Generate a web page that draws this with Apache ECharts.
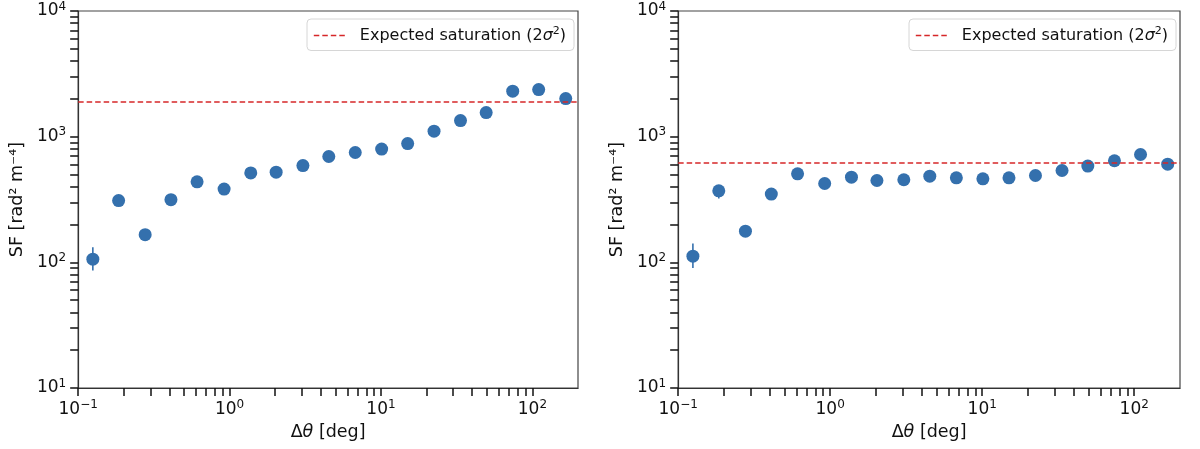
<!DOCTYPE html>
<html><head><meta charset="utf-8">
<script src="https://cdn.jsdelivr.net/npm/echarts@6/dist/echarts.min.js"></script>
<style>html,body{margin:0;padding:0;background:#fff}.c{width:600px;height:449px;float:left}</style>
</head><body><div class="c" id="cL"></div><div class="c" id="cR"></div>
<script>
// ---- data ----
const dtheta = [0.125, 0.185, 0.277, 0.41, 0.61, 0.92, 1.38, 2.03, 3.05, 4.52, 6.76, 10.1, 15.0, 22.4, 33.5, 49.5, 74.1, 110, 166];
const sfLeft = [106, 310, 166, 315, 437, 383, 515, 522, 589, 695, 748, 796, 881, 1106, 1343, 1555, 2300, 2368, 2009];
const sfRight = [112, 371, 177, 349, 506, 424, 476, 448, 454, 485, 470, 462, 470, 491, 538, 583, 643, 721, 604];
// visible error bars only (null = hidden behind the marker)
const errLeftLow  = [86, null, null, null, null, null, null, null, null, null, null, null, null, null, null, null, null, null, null];
const errLeftHigh = [132, null, null, null, null, null, null, null, null, null, null, null, null, null, null, null, null, null, null];
const errRightLow  = [90, 322, null, null, null, null, null, null, null, null, null, null, null, null, null, null, null, null, null];
const errRightHigh = [141, 412, null, null, null, null, null, null, null, null, null, null, null, null, null, null, null, null, null];
const satLeft = 1880;
const satRight = 619;
// tick positions (major decades plus minor 2..9 multiples), sorted
const xTicks = [0.1, 0.2, 0.3, 0.4, 0.5, 0.6, 0.7, 0.8, 0.9, 1, 2, 3, 4, 5, 6, 7, 8, 9, 10, 20, 30, 40, 50, 60, 70, 80, 90, 100];
const yTicks = [10, 20, 30, 40, 50, 60, 70, 80, 90, 100, 200, 300, 400, 500, 600, 700, 800, 900, 1000, 2000, 3000, 4000, 5000, 6000, 7000, 8000, 9000, 10000];
const legendName = 'Expected saturation (2σ²)';
const yName = 'SF [rad\u00b2 m\u207b\u2074]';

const X_MIN = 0.1, X_MAX = 200, Y_MIN = 10, Y_MAX = 10000;
const FONT = 'DejaVu Sans';
const BLUE = '#3470ad';
const RED = '#d62728';

function powLabel(v) {
  const e = Math.round(Math.log10(v));
  if (Math.abs(v / Math.pow(10, e) - 1) > 1e-6) return '';
  return '{b|10}{s|' + (e < 0 ? '\u2212' + (-e) : e) + '}';
}
const labelRich = {
  b: { fontSize: 17, fontFamily: FONT, color: '#111' },
  s: { fontSize: 12, fontFamily: FONT, color: '#111', padding: [0, 0, 9, 0] }
};
const nameRich = {
  n: { fontSize: 17.5, fontFamily: FONT, color: '#111' },
  i: { fontSize: 17.5, fontFamily: FONT, color: '#111', fontStyle: 'italic' }
};

function buildOption(sf, lo, hi, sat, gridLeft, legendLeft) {
  const eb = [];
  dtheta.forEach((x, i) => { if (lo[i] != null) eb.push([x, lo[i], hi[i]]); });
  return {
    animation: false,
    backgroundColor: '#fff',
    textStyle: { fontFamily: FONT },
    grid: { left: gridLeft, top: 11, width: 505, height: 377, show: true, borderColor: '#444', borderWidth: 1.2 },
    xAxis: {
      type: 'log', min: X_MIN, max: X_MAX,
      axisLine: { show: true, lineStyle: { color: '#333', width: 1.2 } },
      axisTick: { show: true, length: 8, customValues: xTicks, lineStyle: { color: '#111', width: 1.5 } },
      splitLine: { show: false }, minorTick: { show: false },
      axisLabel: { formatter: powLabel, rich: labelRich, margin: 11 },
      name: '{n|\u0394}{i|\u03b8}{n| [deg]}', nameLocation: 'middle', nameGap: 35,
      nameTextStyle: { rich: nameRich }
    },
    yAxis: {
      type: 'log', min: Y_MIN, max: Y_MAX,
      axisLine: { show: true, lineStyle: { color: '#333', width: 1.2 } },
      axisTick: { show: true, length: 8, customValues: yTicks, lineStyle: { color: '#111', width: 1.5 } },
      splitLine: { show: false }, minorTick: { show: false },
      axisLabel: { formatter: powLabel, rich: labelRich, margin: 12 },
      name: yName, nameLocation: 'middle', nameGap: 48,
      nameTextStyle: { fontSize: 17.5, fontFamily: FONT, color: '#111' }
    },
    legend: {
      data: [legendName], left: legendLeft, top: 19,
      backgroundColor: '#fff', borderColor: '#d6d6d6', borderWidth: 1, borderRadius: 4,
      padding: [7, 8, 7, 6], itemWidth: 32, itemHeight: 12, selectedMode: false,
      itemStyle: { opacity: 0 },
      lineStyle: { color: RED, type: [5.5, 3], width: 1.6, opacity: 1 },
      formatter: () => '{t0|Expected saturation (2}{i|\u03c3}{s|2}{t|)}',
      textStyle: {
        rich: {
          t0: { fontSize: 16, fontFamily: FONT, color: '#111', padding: [0, 0, 0, 9], lineHeight: 20 },
          t: { fontSize: 16, fontFamily: FONT, color: '#111', lineHeight: 20 },
          i: { fontSize: 16, fontFamily: FONT, color: '#111', fontStyle: 'italic', lineHeight: 20 },
          s: { fontSize: 11, fontFamily: FONT, color: '#111', padding: [0, 0, 8, 0] }
        }
      }
    },
    series: [
      {
        type: 'line', name: legendName, data: [], symbol: 'none', z: 2,
        lineStyle: { color: RED, type: [5.5, 3], width: 1.6 },
        itemStyle: { color: RED },
        markLine: {
          silent: true, symbol: ['none', 'none'], label: { show: false },
          lineStyle: { color: RED, type: [5.5, 3], width: 1.6 },
          data: [{ yAxis: sat }]
        }
      },
      {
        type: 'custom', silent: true, z: 3,
        data: eb, encode: { x: 0, y: [1, 2] },
        renderItem: (params, api) => {
          const a = api.coord([api.value(0), api.value(1)]);
          const b = api.coord([api.value(0), api.value(2)]);
          return { type: 'line', shape: { x1: a[0], y1: a[1], x2: b[0], y2: b[1] },
            style: { stroke: BLUE, lineWidth: 1.6 } };
        }
      },
      {
        type: 'scatter', z: 4,
        data: dtheta.map((x, i) => [x, sf[i]]),
        symbolSize: 13, itemStyle: { color: BLUE, opacity: 1 }
      }
    ]
  };
}

echarts.init(document.getElementById('cL')).setOption(
  buildOption(sfLeft, errLeftLow, errLeftHigh, satLeft, 73, 307));
echarts.init(document.getElementById('cR')).setOption(
  buildOption(sfRight, errRightLow, errRightHigh, satRight, 75, 309));
</script>
</body></html>
